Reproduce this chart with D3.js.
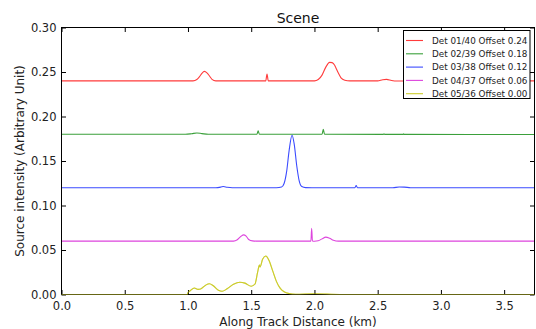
<!DOCTYPE html>
<html>
<head>
<meta charset="utf-8">
<script src="https://cdn.jsdelivr.net/npm/d3@7"></script>
<style>
  html, body { margin: 0; padding: 0; background: #fff; }
  svg { display: block; font-family: "DejaVu Sans", sans-serif; }
</style>
</head>
<body>
<svg id="chart" width="536" height="329"></svg>
<script>
// Along-track source intensity per detector, each shifted by its offset.
const det01 = [[0,0.24],[1.04,0.24],[1.07,0.2415],[1.09,0.2445],[1.11,0.2485],[1.13,0.2507],[1.15,0.249],[1.17,0.2455],[1.19,0.2418],[1.22,0.24],[1.615,0.24],[1.625,0.2478],[1.635,0.24],[2.0,0.24],[2.03,0.2415],[2.06,0.2465],[2.09,0.2555],[2.12,0.2608],[2.14,0.2605],[2.16,0.2575],[2.17,0.2545],[2.19,0.2485],[2.21,0.2435],[2.24,0.2408],[2.28,0.24],[2.5,0.24],[2.54,0.2413],[2.57,0.2417],[2.61,0.2405],[2.65,0.2399],[3.74,0.24]];
const det02 = [[0,0.18],[0.98,0.18],[1.03,0.1807],[1.07,0.1815],[1.11,0.1808],[1.16,0.18],[1.545,0.18],[1.555,0.1838],[1.565,0.18],[2.06,0.18],[2.07,0.1855],[2.08,0.18],[2.545,0.1799],[2.55,0.1807],[2.555,0.1799],[2.7,0.1799],[2.705,0.1806],[2.71,0.1799],[3.74,0.1798]];
const det03 = [[0,0.12],[1.22,0.12],[1.26,0.1207],[1.28,0.1213],[1.31,0.1205],[1.35,0.12],[1.70,0.12],[1.74,0.1207],[1.76,0.1247],[1.78,0.138],[1.80,0.162],[1.823,0.179],[1.84,0.169],[1.86,0.1447],[1.88,0.1274],[1.90,0.1213],[1.93,0.1201],[1.98,0.12],[2.32,0.12],[2.33,0.1225],[2.34,0.12],[2.62,0.12],[2.67,0.1208],[2.71,0.1207],[2.76,0.12],[3.74,0.12]];
const det04 = [[0,0.06],[1.36,0.06],[1.39,0.0615],[1.42,0.0655],[1.44,0.067],[1.46,0.0655],[1.48,0.0618],[1.51,0.0602],[1.54,0.06],[1.972,0.06],[1.978,0.0745],[1.984,0.0602],[2.0,0.0598],[2.03,0.0603],[2.06,0.0625],[2.09,0.0645],[2.12,0.0632],[2.15,0.061],[2.19,0.06],[3.74,0.06]];
const det05 = [[0,0],[0.995,0],[1.0,0.002],[1.02,0.0045],[1.05,0.0073],[1.08,0.0058],[1.1,0.0062],[1.14,0.0105],[1.17,0.012],[1.2,0.0098],[1.24,0.0048],[1.27,0.0036],[1.31,0.0065],[1.36,0.0115],[1.41,0.0138],[1.45,0.0128],[1.5,0.0093],[1.53,0.0118],[1.55,0.0245],[1.565,0.033],[1.57,0.031],[1.59,0.0395],[1.615,0.0432],[1.64,0.0385],[1.67,0.0265],[1.7,0.0145],[1.73,0.0068],[1.76,0.003],[1.8,0.001],[1.85,0.0003],[2.0,0.0008],[2.2,0],[3.74,0]];

const seriesNames = ["Det 01/40 Offset 0.24","Det 02/39 Offset 0.18","Det 03/38 Offset 0.12","Det 04/37 Offset 0.06","Det 05/36 Offset 0.00"];
const seriesColors = ["#ff3b3b","#3ba03b","#3b4bff","#dd44dd","#cccc2a"];
const seriesData = [det01, det02, det03, det04, det05];

const xTicks = [0,0.5,1,1.5,2,2.5,3,3.5];
const yTicks = [0,0.05,0.10,0.15,0.20,0.25,0.30];

const margin = {left: 61.5, top: 27.5, right: 534.5, bottom: 294.5};
const x = d3.scaleLinear().domain([0, 3.74]).range([margin.left, margin.right]);
const y = d3.scaleLinear().domain([0, 0.30]).range([margin.bottom, margin.top]);

const svg = d3.select("#chart");

const clipId = "plotclip";
svg.append("clipPath").attr("id", clipId).append("rect")
  .attr("x", margin.left).attr("y", margin.top)
  .attr("width", margin.right - margin.left).attr("height", margin.bottom - margin.top);

const line = d3.line().x(d => x(d[0])).y(d => y(d[1])).curve(d3.curveMonotoneX);

const plot = svg.append("g").attr("clip-path", `url(#${clipId})`);
seriesData.forEach((data, i) => {
  plot.append("path").datum(data)
    .attr("d", line)
    .attr("fill", "none")
    .attr("stroke", seriesColors[i])
    .attr("stroke-width", 1.1);
});

// Axes with inward ticks on all four sides
const tickLen = 4.5;
const fmtX = d3.format(".1f"), fmtY = d3.format(".2f");
const axB = svg.append("g").attr("transform", `translate(0,${margin.bottom})`)
  .call(d3.axisBottom(x).tickValues(xTicks).tickFormat(fmtX).tickSizeInner(-tickLen).tickSizeOuter(0).tickPadding(7));
const axT = svg.append("g").attr("transform", `translate(0,${margin.top})`)
  .call(d3.axisTop(x).tickValues(xTicks).tickFormat("").tickSizeInner(-tickLen).tickSizeOuter(0));
const axL = svg.append("g").attr("transform", `translate(${margin.left},0)`)
  .call(d3.axisLeft(y).tickValues(yTicks).tickFormat(fmtY).tickSizeInner(-tickLen).tickSizeOuter(0).tickPadding(5));
const axR = svg.append("g").attr("transform", `translate(${margin.right},0)`)
  .call(d3.axisRight(y).tickValues(yTicks).tickFormat("").tickSizeInner(-tickLen).tickSizeOuter(0));
[axB, axT, axL, axR].forEach(a => {
  a.select(".domain").remove();
  a.selectAll("line").attr("stroke", "#000");
  a.selectAll("text").attr("fill", "#222").style("font-size", "11.5px").style("font-family", "DejaVu Sans");
});

svg.append("rect")
  .attr("x", margin.left).attr("y", margin.top)
  .attr("width", margin.right - margin.left).attr("height", margin.bottom - margin.top)
  .attr("fill", "none").attr("stroke", "#000").attr("stroke-width", 1);

// Redraw the zero-offset trace over the frame so it tints the bottom edge
svg.append("path").datum(det05)
  .attr("d", line).attr("fill", "none")
  .attr("stroke", seriesColors[4]).attr("stroke-width", 1.1).attr("stroke-opacity", 0.5);

// Title and axis labels
svg.append("text").attr("x", (margin.left + margin.right) / 2).attr("y", 22.5)
  .attr("text-anchor", "middle").style("font-size", "14px").attr("fill", "#111").text("Scene");
svg.append("text").attr("x", (margin.left + margin.right) / 2).attr("y", 325.5)
  .attr("text-anchor", "middle").style("font-size", "12px").attr("fill", "#222").text("Along Track Distance (km)");
svg.append("text").attr("transform", `translate(24,${(margin.top + margin.bottom) / 2}) rotate(-90)`)
  .attr("text-anchor", "middle").style("font-size", "12px").attr("fill", "#222").text("Source intensity (Arbitrary Unit)");

// Legend
const lg = svg.append("g");
lg.append("rect").attr("x", 403.5).attr("y", 30.5).attr("width", 126.5).attr("height", 68)
  .attr("fill", "#fff").attr("stroke", "#000").attr("stroke-width", 1);
seriesNames.forEach((name, i) => {
  const yy = 40.5 + i * 13.3;
  lg.append("line").attr("x1", 406).attr("x2", 423).attr("y1", yy).attr("y2", yy)
    .attr("stroke", seriesColors[i]).attr("stroke-width", 1.1);
  lg.append("text").attr("x", 432).attr("y", yy + 3.3)
    .style("font-size", "8.8px").attr("fill", "#222").text(name);
});
</script>
</body>
</html>
